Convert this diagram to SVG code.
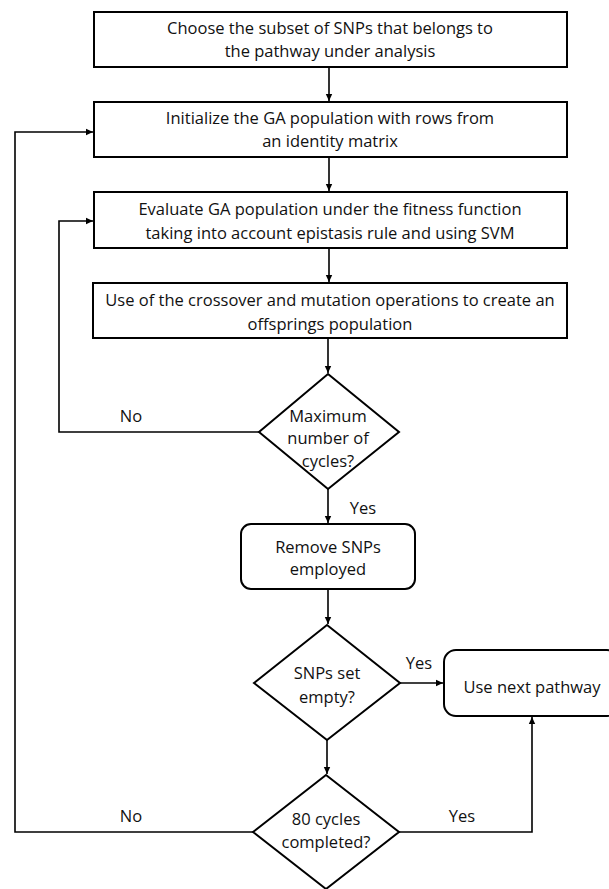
<svg xmlns="http://www.w3.org/2000/svg" width="609" height="889" viewBox="0 0 609 889">
<defs>
<marker id="ah" markerWidth="8" markerHeight="8" refX="7" refY="4" orient="auto" markerUnits="userSpaceOnUse">
<path d="M0,0.8 L7,4 L0,7.2 Z" fill="#000"/>
</marker>
<style>
.box{fill:#fff;stroke:#000;stroke-width:2}
.ln{fill:none;stroke:#000;stroke-width:1.6}
.arr{fill:none;stroke:#000;stroke-width:1.6;marker-end:url(#ah)}
text{font-family:"Open Sans","Liberation Sans",Arial,sans-serif;font-size:16.5px;fill:#111;text-anchor:middle}
</style>
</defs>
<rect width="609" height="889" fill="#fff"/>
<g id="connectors">
<line class="arr" x1="329" y1="67" x2="329" y2="101"/>
<line class="arr" x1="329" y1="157" x2="329" y2="191"/>
<line class="arr" x1="329" y1="248" x2="329" y2="282"/>
<line class="arr" x1="328" y1="338" x2="328" y2="373"/>
<line class="arr" x1="328" y1="489" x2="328" y2="523"/>
<line class="arr" x1="328" y1="589" x2="328" y2="624"/>
<line class="arr" x1="327" y1="740" x2="327" y2="774"/>
<polyline class="arr" points="259,432 59,432 59,221 93,221"/>
<polyline class="arr" points="253,832 15,832 15,132 93,132"/>
<line class="arr" x1="400" y1="683" x2="443" y2="683"/>
<polyline class="arr" points="399,832 532,832 532,717"/>
<text x="131" y="422">No</text>
<text x="363" y="514">Yes</text>
<text x="419" y="669">Yes</text>
<text x="131" y="822">No</text>
<text x="462" y="822">Yes</text>
</g>
<g id="n1">
<rect class="box" x="94" y="12" width="473" height="55"/>
<text x="330" y="34">Choose the subset of SNPs that belongs to</text>
<text x="330" y="57">the pathway under analysis</text>
</g>
<g id="n2">
<rect class="box" x="94" y="102" width="473" height="55"/>
<text x="330" y="124">Initialize the GA population with rows from</text>
<text x="330" y="147">an identity matrix</text>
</g>
<g id="n3">
<rect class="box" x="94" y="192" width="473" height="56"/>
<text x="330" y="215">Evaluate GA population under the fitness function</text>
<text x="330" y="239">taking into account epistasis rule and using SVM</text>
</g>
<g id="n4">
<rect class="box" x="93" y="283" width="474" height="55"/>
<text x="330" y="306">Use of the crossover and mutation operations to create an</text>
<text x="330" y="330">offsprings population</text>
</g>
<g id="d1">
<polygon class="box" points="328,374 399,432 328,489 259,432"/>
<text x="328" y="422">Maximum</text>
<text x="328" y="444">number of</text>
<text x="328" y="467">cycles?</text>
</g>
<g id="n5">
<rect class="box" x="241" y="524" width="174" height="65" rx="10"/>
<text x="328" y="553">Remove SNPs</text>
<text x="328" y="575">employed</text>
</g>
<g id="d2">
<polygon class="box" points="327,625 400,683 327,740 254,683"/>
<text x="327" y="679">SNPs set</text>
<text x="327" y="703">empty?</text>
</g>
<g id="n6">
<rect class="box" x="444" y="650" width="175" height="66" rx="12"/>
<text x="532" y="693">Use next pathway</text>
</g>
<g id="d3">
<polygon class="box" points="326,775 399,832 326,889 253,832"/>
<text x="326" y="825">80 cycles</text>
<text x="326" y="848">completed?</text>
</g>
</svg>
